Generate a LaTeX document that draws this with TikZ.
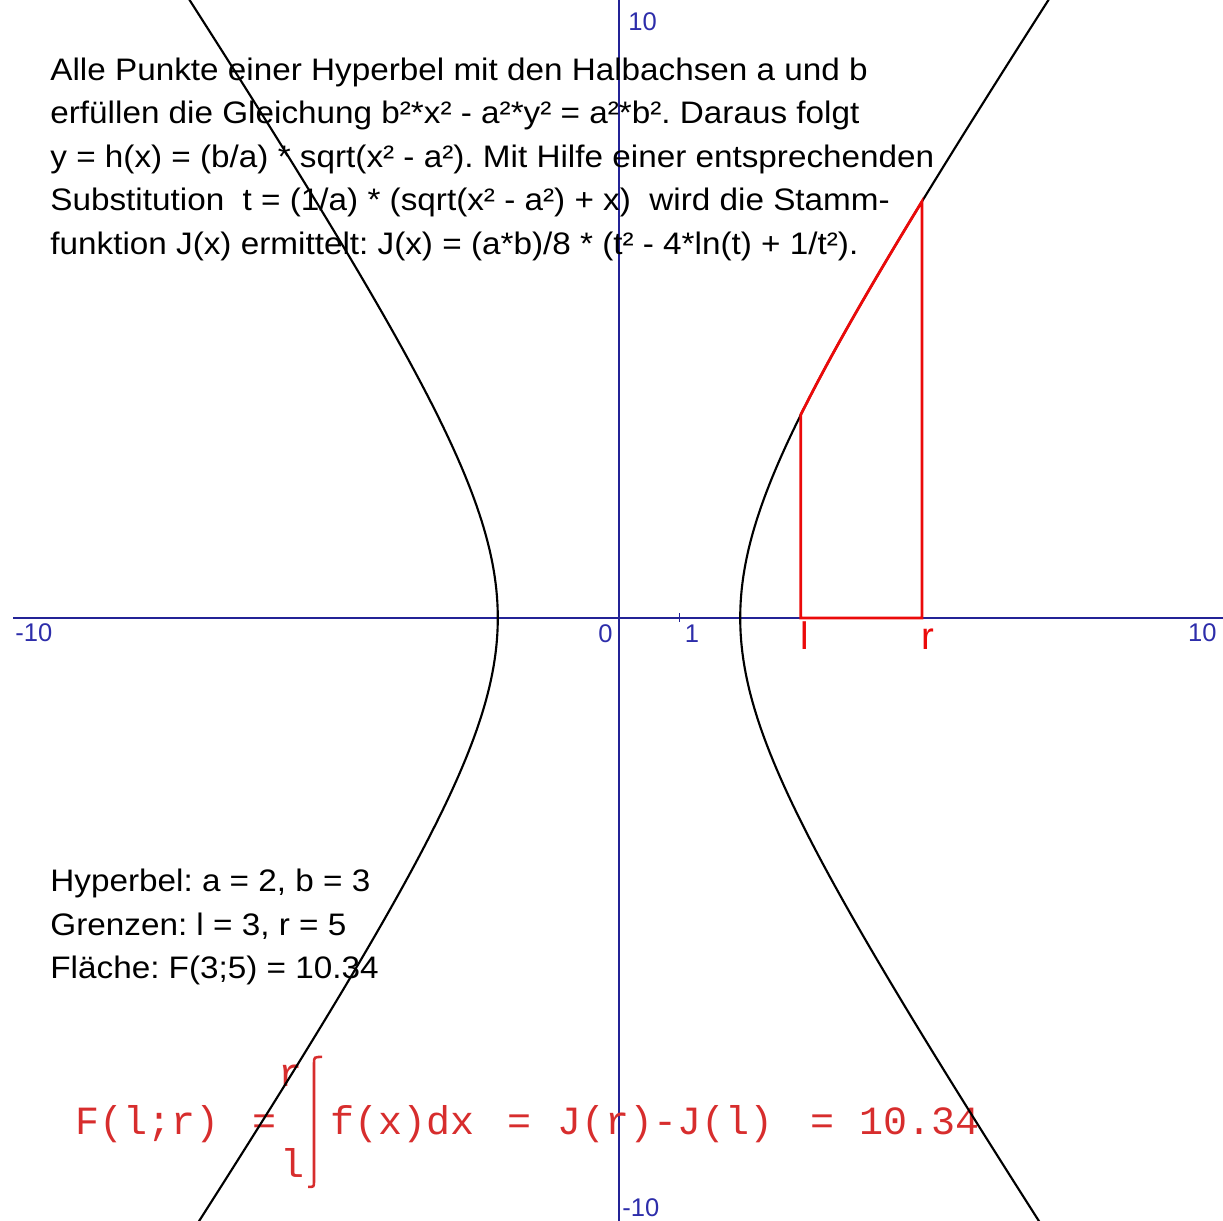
\documentclass[tikz,border=0pt]{standalone}
\usepackage{fontspec}
\setmainfont{Liberation Sans}
\newfontfamily\txtfont{Liberation Sans}[FakeStretch=1.07]
\newfontfamily\formfont{Liberation Mono}
\usetikzlibrary{positioning}
\definecolor{axisblue}{RGB}{35,35,150}
\definecolor{labelblue}{RGB}{45,45,170}
\definecolor{areared}{RGB}{235,10,10}
\definecolor{formred}{RGB}{215,45,45}
\frenchspacing

\begin{document}
\begin{tikzpicture}[
  axis/.style={axisblue,line width=0.7pt},
  axlbl/.style={text=labelblue,inner sep=0pt,font=\fontsize{12}{14}\selectfont},
  bnd/.style={text=areared,anchor=base,inner sep=0pt,font=\fontsize{18}{20}\selectfont},
  txt/.style={anchor=base west,inner sep=0pt,font=\txtfont\fontsize{14.6}{17}\selectfont},
  nextline/.style={below=0.718cm of #1.base west,anchor=base west},
  curve/.style={black,line width=1pt},
  area/.style={areared,line width=1.3pt},
  form/.style={text=formred,anchor=base,inner sep=0pt,font=\formfont\fontsize{18.8}{20}\selectfont},
]
\useasboundingbox (-10.215,-9.95) rectangle (9.967,10.198);

\coordinate (xmin) at (-10,0);
\coordinate (xmax) at (10.2,0);
\coordinate (ymin) at (0,-10.2);
\coordinate (ymax) at (0,10.2);
\draw[axis] (xmin) -- (xmax);
\draw[axis] (ymin) -- (ymax);
\draw[axis] (1,0.08) -- (1,-0.07);

\node[axlbl,anchor=west] (ytop) at (0.149,9.835) {10};
\node[axlbl,anchor=west] (ybot) at (0.05,-9.736) {-10};
\node[axlbl,anchor=west] (xleft) at (-9.967,-0.248) {-10};
\node[axlbl,anchor=east] (xright) at (9.868,-0.248) {10};
\node[axlbl,anchor=east] (orig) at (-0.099,-0.26) {0};
\node[axlbl] (one) at (1.205,-0.26) {1};
\node[bnd] (lbl) at (3.06,-0.528) {l};
\node[bnd] (rbl) at (5.09,-0.528) {r};

\node[txt] (t1) at (-9.39,8.87) {Alle Punkte einer Hyperbel mit den Halbachsen a und b};
\node[txt,nextline=t1] (t2) {erfüllen die Gleichung b²*x² - a²*y² = a²*b². Daraus folgt};
\node[txt,nextline=t2] (t3) {y = h(x) = (b/a) * sqrt(x² - a²). Mit Hilfe einer entsprechenden};
\node[txt,nextline=t3] (t4) {Substitution~ t = (1/a) * (sqrt(x² - a²) + x)~ wird die Stamm-};
\node[txt,nextline=t4] (t5) {funktion J(x) ermittelt: J(x) = (a*b)/8 * (t² - 4*ln(t) + 1/t²).};

\node[txt] (i1) at (-9.39,-4.521) {Hyperbel: a = 2, b = 3};
\node[txt,nextline=i1] (i2) {Grenzen: l = 3, r = 5};
\node[txt,nextline=i2] (i3) {Fläche: F(3;5) = 10.34};

\node[form,anchor=base west] (flr) at (-8.977,-8.531) {F(l;r)};
\node[form] (eqa) at (-5.842,-8.531) {=};
\node[form] (upr) at (-5.413,-7.739) {r};
\node[form] (lwl) at (-5.396,-9.241) {l};
\draw[formred,line width=1.2pt] (-4.90,-7.244) .. controls (-5.033,-7.244) .. (-5.033,-7.36)
  -- (-5.033,-9.29) .. controls (-5.033,-9.389) .. (-5.13,-9.389);
\node[form,anchor=base west] (fx) at (-4.769,-8.531) {f(x)dx};
\node[form] (eqb) at (-1.634,-8.531) {=};
\node[form,anchor=base west] (jd) at (-1.023,-8.531) {J(r)-J(l)};
\node[form] (eqc) at (3.366,-8.531) {=};
\node[form,anchor=base west] (val) at (3.96,-8.531) {10.34};

\begin{scope}
\clip (-10.215,-9.95) rectangle (9.967,10.198);
\draw[curve] plot[domain=-2.1:2.1,samples=120,variable=\t] ({2*cosh(\t)},{3*sinh(\t)});
\draw[curve] plot[domain=-2.1:2.1,samples=120,variable=\t] ({-2*cosh(\t)},{3*sinh(\t)});
\end{scope}

\coordinate (lfoot) at (3,0);
\coordinate (rfoot) at (5,0);
\draw[area] (lfoot) -- plot[domain=3:5,samples=40] (\x,{1.5*sqrt(\x*\x-4)}) -- (rfoot) -- cycle;
\end{tikzpicture}
\end{document}
